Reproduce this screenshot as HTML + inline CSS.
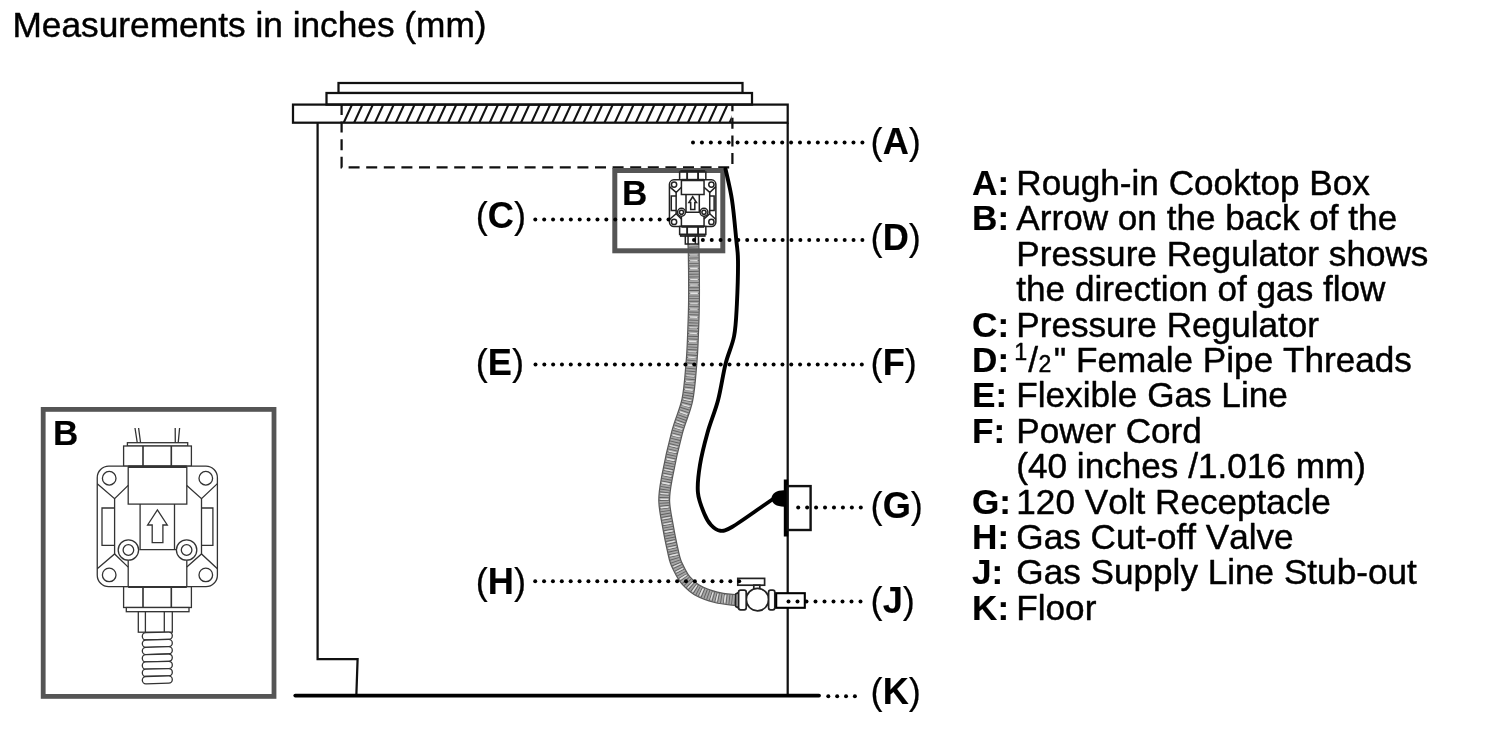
<!DOCTYPE html>
<html><head><meta charset="utf-8"><title>Diagram</title>
<style>
html,body{margin:0;padding:0;background:#fff;}
body{width:1500px;height:750px;overflow:hidden;font-family:"Liberation Sans",sans-serif;}
svg{display:block;filter:blur(0.5px);}
text{font-family:"Liberation Sans",sans-serif;fill:#000;font-kerning:none;stroke:#000;stroke-width:0.45px;stroke-linejoin:round;}
.b{font-weight:bold;stroke-width:0.15px;}
.co text{stroke-width:0.2px;}
</style></head><body>
<svg width="1500" height="750" viewBox="0 0 1500 750">
<defs><clipPath id="hc"><rect x="342" y="104" width="389.5" height="18.5"/></clipPath></defs>
<rect width="1500" height="750" fill="#fff"/>
<text x="12.5" y="37.1" font-size="35.25">Measurements in inches (mm)</text>

<!-- cooktop / cabinet -->
<g fill="none" stroke="#111" stroke-width="2.25">
<g stroke-width="2.1" clip-path="url(#hc)"><line x1="322.38" y1="123.7" x2="331.63" y2="103.6"/>
<line x1="332.81" y1="123.7" x2="342.06" y2="103.6"/>
<line x1="343.24" y1="123.7" x2="352.49" y2="103.6"/>
<line x1="353.67" y1="123.7" x2="362.92" y2="103.6"/>
<line x1="364.10" y1="123.7" x2="373.35" y2="103.6"/>
<line x1="374.53" y1="123.7" x2="383.78" y2="103.6"/>
<line x1="384.96" y1="123.7" x2="394.21" y2="103.6"/>
<line x1="395.39" y1="123.7" x2="404.64" y2="103.6"/>
<line x1="405.82" y1="123.7" x2="415.07" y2="103.6"/>
<line x1="416.25" y1="123.7" x2="425.50" y2="103.6"/>
<line x1="426.68" y1="123.7" x2="435.93" y2="103.6"/>
<line x1="437.11" y1="123.7" x2="446.36" y2="103.6"/>
<line x1="447.54" y1="123.7" x2="456.79" y2="103.6"/>
<line x1="457.97" y1="123.7" x2="467.22" y2="103.6"/>
<line x1="468.40" y1="123.7" x2="477.65" y2="103.6"/>
<line x1="478.83" y1="123.7" x2="488.08" y2="103.6"/>
<line x1="489.26" y1="123.7" x2="498.51" y2="103.6"/>
<line x1="499.69" y1="123.7" x2="508.94" y2="103.6"/>
<line x1="510.12" y1="123.7" x2="519.37" y2="103.6"/>
<line x1="520.55" y1="123.7" x2="529.80" y2="103.6"/>
<line x1="530.98" y1="123.7" x2="540.23" y2="103.6"/>
<line x1="541.41" y1="123.7" x2="550.66" y2="103.6"/>
<line x1="551.84" y1="123.7" x2="561.09" y2="103.6"/>
<line x1="562.27" y1="123.7" x2="571.52" y2="103.6"/>
<line x1="572.70" y1="123.7" x2="581.95" y2="103.6"/>
<line x1="583.13" y1="123.7" x2="592.38" y2="103.6"/>
<line x1="593.56" y1="123.7" x2="602.81" y2="103.6"/>
<line x1="603.99" y1="123.7" x2="613.24" y2="103.6"/>
<line x1="614.42" y1="123.7" x2="623.67" y2="103.6"/>
<line x1="624.85" y1="123.7" x2="634.10" y2="103.6"/>
<line x1="635.28" y1="123.7" x2="644.53" y2="103.6"/>
<line x1="645.71" y1="123.7" x2="654.96" y2="103.6"/>
<line x1="656.14" y1="123.7" x2="665.39" y2="103.6"/>
<line x1="666.57" y1="123.7" x2="675.82" y2="103.6"/>
<line x1="677.00" y1="123.7" x2="686.25" y2="103.6"/>
<line x1="687.43" y1="123.7" x2="696.68" y2="103.6"/>
<line x1="697.86" y1="123.7" x2="707.11" y2="103.6"/>
<line x1="708.29" y1="123.7" x2="717.54" y2="103.6"/>
<line x1="718.72" y1="123.7" x2="727.97" y2="103.6"/>
<line x1="729.15" y1="123.7" x2="738.40" y2="103.6"/></g>
<rect x="338.5" y="83" width="404" height="10" fill="#fff"/>
<rect x="326.5" y="93" width="425.5" height="11.6" fill="#fff"/>
<rect x="293" y="104.6" width="494.7" height="18.1"/>
<path d="M317.6 122.7 V659 H357.6 L356.4 694"/>
<path d="M787.7 122.7 V695"/>
<path d="M341.6 104 V167.4 H732.4 V104" stroke-dasharray="11 6.6"/>
</g>
<path d="M295.3 695.6 H819" stroke="#000" stroke-width="3.8" stroke-linecap="round" fill="none"/>

<!-- hose -->
<g fill="none" stroke-linecap="butt">
<path d="M692.8 236.0 C692.9 238.8 693.5 242.1 693.7 252.8 C693.9 263.5 694.1 286.3 694.0 300.0 C693.9 313.7 693.4 324.4 693.0 335.0 C692.6 345.6 692.4 352.9 691.4 363.7 C690.4 374.5 689.7 388.5 687.3 400.0 C684.9 411.5 680.3 420.1 677.0 432.7 C673.7 445.2 669.5 463.9 667.4 475.3 C665.3 486.7 664.0 492.1 664.2 501.0 C664.4 509.9 667.0 520.5 668.4 528.7 C669.8 536.9 671.5 544.6 672.7 550.0 C673.9 555.4 674.2 557.6 675.5 561.3 C676.8 565.0 678.8 568.8 680.5 572.0 C682.2 575.2 683.2 577.5 686.0 580.5 C688.8 583.5 692.0 587.2 697.0 590.0 C702.0 592.8 709.5 595.6 716.0 597.3 C722.5 599.0 732.9 599.7 736.3 600.2" stroke="#585858" stroke-width="12"/>
<path d="M692.8 236.0 C692.9 238.8 693.5 242.1 693.7 252.8 C693.9 263.5 694.1 286.3 694.0 300.0 C693.9 313.7 693.4 324.4 693.0 335.0 C692.6 345.6 692.4 352.9 691.4 363.7 C690.4 374.5 689.7 388.5 687.3 400.0 C684.9 411.5 680.3 420.1 677.0 432.7 C673.7 445.2 669.5 463.9 667.4 475.3 C665.3 486.7 664.0 492.1 664.2 501.0 C664.4 509.9 667.0 520.5 668.4 528.7 C669.8 536.9 671.5 544.6 672.7 550.0 C673.9 555.4 674.2 557.6 675.5 561.3 C676.8 565.0 678.8 568.8 680.5 572.0 C682.2 575.2 683.2 577.5 686.0 580.5 C688.8 583.5 692.0 587.2 697.0 590.0 C702.0 592.8 709.5 595.6 716.0 597.3 C722.5 599.0 732.9 599.7 736.3 600.2" stroke="#a6a6a6" stroke-width="9.6"/>
<path d="M692.8 236.0 C692.9 238.8 693.5 242.1 693.7 252.8 C693.9 263.5 694.1 286.3 694.0 300.0 C693.9 313.7 693.4 324.4 693.0 335.0 C692.6 345.6 692.4 352.9 691.4 363.7 C690.4 374.5 689.7 388.5 687.3 400.0 C684.9 411.5 680.3 420.1 677.0 432.7 C673.7 445.2 669.5 463.9 667.4 475.3 C665.3 486.7 664.0 492.1 664.2 501.0 C664.4 509.9 667.0 520.5 668.4 528.7 C669.8 536.9 671.5 544.6 672.7 550.0 C673.9 555.4 674.2 557.6 675.5 561.3 C676.8 565.0 678.8 568.8 680.5 572.0 C682.2 575.2 683.2 577.5 686.0 580.5 C688.8 583.5 692.0 587.2 697.0 590.0 C702.0 592.8 709.5 595.6 716.0 597.3 C722.5 599.0 732.9 599.7 736.3 600.2" stroke="#606060" stroke-width="10" stroke-dasharray="0.9 1.8"/>
<path d="M692.8 236.0 C692.9 238.8 693.5 242.1 693.7 252.8 C693.9 263.5 694.1 286.3 694.0 300.0 C693.9 313.7 693.4 324.4 693.0 335.0 C692.6 345.6 692.4 352.9 691.4 363.7 C690.4 374.5 689.7 388.5 687.3 400.0 C684.9 411.5 680.3 420.1 677.0 432.7 C673.7 445.2 669.5 463.9 667.4 475.3 C665.3 486.7 664.0 492.1 664.2 501.0 C664.4 509.9 667.0 520.5 668.4 528.7 C669.8 536.9 671.5 544.6 672.7 550.0 C673.9 555.4 674.2 557.6 675.5 561.3 C676.8 565.0 678.8 568.8 680.5 572.0 C682.2 575.2 683.2 577.5 686.0 580.5 C688.8 583.5 692.0 587.2 697.0 590.0 C702.0 592.8 709.5 595.6 716.0 597.3 C722.5 599.0 732.9 599.7 736.3 600.2" stroke="#e2e2e2" stroke-width="7.6" stroke-dasharray="1.2 6.6 1.5 9.4 1 4.5"/>
</g>
<!-- small B box -->
<rect x="614.8" y="170.5" width="108" height="80.3" fill="none" stroke="#555" stroke-width="5"/>
<text x="622" y="204.7" font-size="35" class="b">B</text>
<!-- small regulator: scaled copy of big one -->
<g transform="translate(692.65 203.15) scale(0.3865) translate(-157.3 -526.45)" fill="#fff" stroke="#222" stroke-width="3.9">
<rect x="127.4" y="442.7" width="60.3" height="3.4"/>
<rect x="123.6" y="446" width="67.8" height="20.2"/>
<path fill="none" d="M143 446V466 M171.3 446V466" stroke-width="4.88"/>
<rect x="97.25" y="466.2" width="120.15" height="120.5" rx="11.5" ry="11.5"/>
<rect x="128.2" y="467.3" width="58.6" height="36.8"/>
<path fill="none" d="M128.2 466.6H186.8" stroke-width="6.24"/>
<path fill="none" d="M140.1 504.1V549.7 M174.5 504.1V549.7 M139.3 549.7H176"/>
<path fill="none" d="M157.4 509.9 L167.3 525 L162.9 525 L162.9 542.6 L152.2 542.6 L152.2 525 L147.6 525 Z"/>
<circle cx="109.2" cy="478.25" r="6.8"/>
<circle cx="109.2" cy="574.9" r="6.8"/>
<circle cx="205.8" cy="478.25" r="6.8"/>
<circle cx="205.8" cy="574.9" r="6.8"/>
<path fill="none" d="M97.25 483.8 L114.6 498.7 L128.2 485.4 M217.4 483.6 L201.5 498.7 L186.8 485.4"/>
<path fill="none" d="M114.6 498.7V554 M201.5 498.7V554"/>
<path fill="none" d="M114.6 508H102V545.3H114.6 M201.5 508H212.9V545.3H201.5"/>
<path fill="none" d="M97.25 568.7 L114.6 554 L128.2 567.1 M217.4 568.7 L201.5 554 L186.8 567.1"/>
<path fill="none" d="M128.2 556V586.7 M186.8 556V586.7"/>
<circle cx="128.4" cy="550" r="10.2"/><circle cx="128.4" cy="550" r="5.3"/>
<circle cx="186.6" cy="550" r="10.2"/><circle cx="186.6" cy="550" r="5.3"/>
<rect x="123.6" y="586.7" width="67.8" height="20.8"/>
<path fill="none" d="M128.2 587H186.8" stroke-width="6.24"/>
<path fill="none" d="M143 587V607.5 M171.3 587V607.5" stroke-width="4.88"/>
<rect x="126.3" y="607.5" width="62.7" height="4.2"/>
<rect x="138.3" y="611.7" width="34" height="20.5"/>
<path fill="none" d="M145.4 611.7V632 M164.3 611.7V632"/>
</g>

<!-- power cord -->
<path d="M725.5 169.0 C726.6 174.2 730.2 188.2 732.0 200.0 C733.8 211.8 735.3 229.8 736.3 240.0 C737.3 250.2 737.9 250.3 738.0 261.0 C738.1 271.7 737.5 291.5 736.9 304.0 C736.2 316.5 736.0 326.1 734.1 336.0 C732.2 345.9 728.3 353.0 725.6 363.7 C722.9 374.4 721.1 388.5 718.1 400.0 C715.1 411.5 710.5 421.9 707.5 432.7 C704.5 443.5 701.6 454.8 700.0 464.7 C698.4 474.6 697.2 484.2 697.9 492.4 C698.6 500.6 702.1 508.3 704.3 513.7 C706.5 519.1 708.3 522.1 711.0 525.0 C713.7 527.9 716.8 530.5 720.3 530.8 C723.8 531.1 725.4 530.8 732.0 527.0 C738.6 523.2 753.2 512.7 760.0 508.0 C766.8 503.3 770.8 500.5 773.0 499.0" fill="none" stroke="#000" stroke-width="3.9" stroke-linecap="round" stroke-linejoin="round"/>
<!-- plug + outlet -->
<path d="M785 490.3 C777 490 771.5 493.5 771.5 498.5 C771.5 503.5 777 507 785 506.7 Z" fill="#000"/>
<rect x="783.8" y="479.5" width="4.4" height="57" fill="#000"/>
<rect x="787.7" y="486.1" width="22.9" height="43.9" fill="#fff" stroke="#111" stroke-width="2.4"/>

<!-- valve -->
<g fill="#fff" stroke="#222" stroke-width="1.7">
<rect x="737.8" y="578.4" width="26.8" height="6.8"/>
<rect x="753.8" y="585.2" width="6" height="3.6"/>
<circle cx="757.5" cy="599.6" r="11.2"/>
<path d="M738.5 592.5 L735.8 594 V606.5 L738.5 608 Z"/>
<rect x="738.6" y="590.2" width="7.6" height="19.6" rx="2"/>
<rect x="768.6" y="590.2" width="6.2" height="19.6" rx="2"/>
</g>
<rect x="776.2" y="593.2" width="28.6" height="14.6" fill="#fff" stroke="#000" stroke-width="2.1"/>

<!-- dotted leaders -->
<g fill="#000">
<circle cx="693.00" cy="142.4" r="2.0"/><circle cx="701.92" cy="142.4" r="2.0"/><circle cx="710.83" cy="142.4" r="2.0"/><circle cx="719.75" cy="142.4" r="2.0"/><circle cx="728.66" cy="142.4" r="2.0"/><circle cx="737.58" cy="142.4" r="2.0"/><circle cx="746.49" cy="142.4" r="2.0"/><circle cx="755.41" cy="142.4" r="2.0"/><circle cx="764.33" cy="142.4" r="2.0"/><circle cx="773.24" cy="142.4" r="2.0"/><circle cx="782.16" cy="142.4" r="2.0"/><circle cx="791.07" cy="142.4" r="2.0"/><circle cx="799.99" cy="142.4" r="2.0"/><circle cx="808.91" cy="142.4" r="2.0"/><circle cx="817.82" cy="142.4" r="2.0"/><circle cx="826.74" cy="142.4" r="2.0"/><circle cx="835.65" cy="142.4" r="2.0"/><circle cx="844.57" cy="142.4" r="2.0"/><circle cx="853.48" cy="142.4" r="2.0"/><circle cx="862.40" cy="142.4" r="2.0"/>
<circle cx="535.30" cy="219.6" r="2.0"/><circle cx="544.18" cy="219.6" r="2.0"/><circle cx="553.06" cy="219.6" r="2.0"/><circle cx="561.94" cy="219.6" r="2.0"/><circle cx="570.82" cy="219.6" r="2.0"/><circle cx="579.70" cy="219.6" r="2.0"/><circle cx="588.58" cy="219.6" r="2.0"/><circle cx="597.46" cy="219.6" r="2.0"/><circle cx="606.34" cy="219.6" r="2.0"/><circle cx="615.22" cy="219.6" r="2.0"/><circle cx="624.10" cy="219.6" r="2.0"/><circle cx="632.98" cy="219.6" r="2.0"/><circle cx="641.86" cy="219.6" r="2.0"/><circle cx="650.74" cy="219.6" r="2.0"/><circle cx="659.62" cy="219.6" r="2.0"/><circle cx="668.50" cy="219.6" r="2.0"/>
<circle cx="694.00" cy="240" r="2.0"/><circle cx="702.86" cy="240" r="2.0"/><circle cx="711.73" cy="240" r="2.0"/><circle cx="720.59" cy="240" r="2.0"/><circle cx="729.45" cy="240" r="2.0"/><circle cx="738.32" cy="240" r="2.0"/><circle cx="747.18" cy="240" r="2.0"/><circle cx="756.04" cy="240" r="2.0"/><circle cx="764.91" cy="240" r="2.0"/><circle cx="773.77" cy="240" r="2.0"/><circle cx="782.63" cy="240" r="2.0"/><circle cx="791.49" cy="240" r="2.0"/><circle cx="800.36" cy="240" r="2.0"/><circle cx="809.22" cy="240" r="2.0"/><circle cx="818.08" cy="240" r="2.0"/><circle cx="826.95" cy="240" r="2.0"/><circle cx="835.81" cy="240" r="2.0"/><circle cx="844.67" cy="240" r="2.0"/><circle cx="853.54" cy="240" r="2.0"/><circle cx="862.40" cy="240" r="2.0"/>
<circle cx="535.50" cy="364.6" r="2.0"/><circle cx="544.32" cy="364.6" r="2.0"/><circle cx="553.14" cy="364.6" r="2.0"/><circle cx="561.96" cy="364.6" r="2.0"/><circle cx="570.78" cy="364.6" r="2.0"/><circle cx="579.59" cy="364.6" r="2.0"/><circle cx="588.41" cy="364.6" r="2.0"/><circle cx="597.23" cy="364.6" r="2.0"/><circle cx="606.05" cy="364.6" r="2.0"/><circle cx="614.87" cy="364.6" r="2.0"/><circle cx="623.69" cy="364.6" r="2.0"/><circle cx="632.51" cy="364.6" r="2.0"/><circle cx="641.33" cy="364.6" r="2.0"/><circle cx="650.15" cy="364.6" r="2.0"/><circle cx="658.96" cy="364.6" r="2.0"/><circle cx="667.78" cy="364.6" r="2.0"/><circle cx="676.60" cy="364.6" r="2.0"/><circle cx="685.42" cy="364.6" r="2.0"/><circle cx="694.24" cy="364.6" r="2.0"/><circle cx="703.06" cy="364.6" r="2.0"/><circle cx="711.88" cy="364.6" r="2.0"/><circle cx="720.70" cy="364.6" r="2.0"/><circle cx="729.52" cy="364.6" r="2.0"/><circle cx="738.34" cy="364.6" r="2.0"/><circle cx="747.15" cy="364.6" r="2.0"/><circle cx="755.97" cy="364.6" r="2.0"/><circle cx="764.79" cy="364.6" r="2.0"/><circle cx="773.61" cy="364.6" r="2.0"/><circle cx="782.43" cy="364.6" r="2.0"/><circle cx="791.25" cy="364.6" r="2.0"/><circle cx="800.07" cy="364.6" r="2.0"/><circle cx="808.89" cy="364.6" r="2.0"/><circle cx="817.71" cy="364.6" r="2.0"/><circle cx="826.52" cy="364.6" r="2.0"/><circle cx="835.34" cy="364.6" r="2.0"/><circle cx="844.16" cy="364.6" r="2.0"/><circle cx="852.98" cy="364.6" r="2.0"/><circle cx="861.80" cy="364.6" r="2.0"/>
<circle cx="798.20" cy="507.5" r="2.0"/><circle cx="807.14" cy="507.5" r="2.0"/><circle cx="816.09" cy="507.5" r="2.0"/><circle cx="825.03" cy="507.5" r="2.0"/><circle cx="833.97" cy="507.5" r="2.0"/><circle cx="842.91" cy="507.5" r="2.0"/><circle cx="851.86" cy="507.5" r="2.0"/><circle cx="860.80" cy="507.5" r="2.0"/>
<circle cx="535.20" cy="581.3" r="2.0"/><circle cx="544.07" cy="581.3" r="2.0"/><circle cx="552.94" cy="581.3" r="2.0"/><circle cx="561.81" cy="581.3" r="2.0"/><circle cx="570.68" cy="581.3" r="2.0"/><circle cx="579.55" cy="581.3" r="2.0"/><circle cx="588.42" cy="581.3" r="2.0"/><circle cx="597.29" cy="581.3" r="2.0"/><circle cx="606.16" cy="581.3" r="2.0"/><circle cx="615.03" cy="581.3" r="2.0"/><circle cx="623.90" cy="581.3" r="2.0"/><circle cx="632.77" cy="581.3" r="2.0"/><circle cx="641.63" cy="581.3" r="2.0"/><circle cx="650.50" cy="581.3" r="2.0"/><circle cx="659.37" cy="581.3" r="2.0"/><circle cx="668.24" cy="581.3" r="2.0"/><circle cx="677.11" cy="581.3" r="2.0"/><circle cx="685.98" cy="581.3" r="2.0"/><circle cx="694.85" cy="581.3" r="2.0"/><circle cx="703.72" cy="581.3" r="2.0"/><circle cx="712.59" cy="581.3" r="2.0"/><circle cx="721.46" cy="581.3" r="2.0"/><circle cx="730.33" cy="581.3" r="2.0"/><circle cx="739.20" cy="581.3" r="2.0"/>
<circle cx="788.50" cy="601.4" r="2.0"/><circle cx="797.50" cy="601.4" r="2.0"/><circle cx="806.50" cy="601.4" r="2.0"/><circle cx="815.50" cy="601.4" r="2.0"/><circle cx="824.50" cy="601.4" r="2.0"/><circle cx="833.50" cy="601.4" r="2.0"/><circle cx="842.50" cy="601.4" r="2.0"/><circle cx="851.50" cy="601.4" r="2.0"/><circle cx="860.50" cy="601.4" r="2.0"/>
<circle cx="828.30" cy="696.2" r="2.0"/><circle cx="837.17" cy="696.2" r="2.0"/><circle cx="846.03" cy="696.2" r="2.0"/><circle cx="854.90" cy="696.2" r="2.0"/>
</g>

<!-- callout labels -->
<g font-size="36.2" class="co">
<text x="870.6" y="154.3">(<tspan class="b">A</tspan>)</text>
<text x="870.6" y="250">(<tspan class="b">D</tspan>)</text>
<text x="870.6" y="374.8">(<tspan class="b">F</tspan>)</text>
<text x="870.6" y="517.8">(<tspan class="b">G</tspan>)</text>
<text x="870.6" y="612.8">(<tspan class="b">J</tspan>)</text>
<text x="870.6" y="703.8">(<tspan class="b">K</tspan>)</text>
<text x="475.8" y="227.6">(<tspan class="b">C</tspan>)</text>
<text x="475.8" y="374.8">(<tspan class="b">E</tspan>)</text>
<text x="475.8" y="594">(<tspan class="b">H</tspan>)</text>
</g>

<!-- big B inset -->
<rect x="43.2" y="409.4" width="230.8" height="287" fill="#fff" stroke="#555" stroke-width="4.8"/>
<text x="53" y="445" font-size="35" class="b">B</text>
<g fill="#fff" stroke="#333" stroke-width="1.3">
<path fill="none" d="M135 428 L137.3 443 M138.6 428 L140.6 443 M175.2 428 L175.3 443 M179.6 428 L178.2 443"/>
<rect x="127.4" y="442.7" width="60.3" height="3.4"/>
<rect x="123.6" y="446" width="67.8" height="20.2"/>
<path fill="none" d="M143 446V466 M171.3 446V466" stroke-width="1.62"/>
<rect x="97.25" y="466.2" width="120.15" height="120.5" rx="11.5" ry="11.5"/>
<rect x="128.2" y="467.3" width="58.6" height="36.8"/>
<path fill="none" d="M128.2 466.6H186.8" stroke-width="2.08"/>
<path fill="none" d="M140.1 504.1V549.7 M174.5 504.1V549.7 M139.3 549.7H176"/>
<path fill="none" d="M157.4 509.9 L167.3 525 L162.9 525 L162.9 542.6 L152.2 542.6 L152.2 525 L147.6 525 Z"/>
<circle cx="109.2" cy="478.25" r="6.8"/>
<circle cx="109.2" cy="574.9" r="6.8"/>
<circle cx="205.8" cy="478.25" r="6.8"/>
<circle cx="205.8" cy="574.9" r="6.8"/>
<path fill="none" d="M97.25 483.8 L114.6 498.7 L128.2 485.4 M217.4 483.6 L201.5 498.7 L186.8 485.4"/>
<path fill="none" d="M114.6 498.7V554 M201.5 498.7V554"/>
<path fill="none" d="M114.6 508H102V545.3H114.6 M201.5 508H212.9V545.3H201.5"/>
<path fill="none" d="M97.25 568.7 L114.6 554 L128.2 567.1 M217.4 568.7 L201.5 554 L186.8 567.1"/>
<path fill="none" d="M128.2 556V586.7 M186.8 556V586.7"/>
<circle cx="128.4" cy="550" r="10.2"/><circle cx="128.4" cy="550" r="5.3"/>
<circle cx="186.6" cy="550" r="10.2"/><circle cx="186.6" cy="550" r="5.3"/>
<rect x="123.6" y="586.7" width="67.8" height="20.8"/>
<path fill="none" d="M128.2 587H186.8" stroke-width="2.08"/>
<path fill="none" d="M143 587V607.5 M171.3 587V607.5" stroke-width="1.62"/>
<rect x="126.3" y="607.5" width="62.7" height="4.2"/>
<rect x="138.3" y="611.7" width="34" height="20.5"/>
<path fill="none" d="M145.4 611.7V632 M164.3 611.7V632"/>
<rect x="142.3" y="632.4" width="30" height="7.3" rx="3.6" ry="3.6" transform="rotate(-1.5 157.3 636.0)"/>
<rect x="142.3" y="639.7" width="30" height="7.3" rx="3.6" ry="3.6" transform="rotate(-1.5 157.3 643.3)"/>
<rect x="142.3" y="647.0" width="30" height="7.3" rx="3.6" ry="3.6" transform="rotate(-1.5 157.3 650.6)"/>
<rect x="142.3" y="654.3" width="30" height="7.3" rx="3.6" ry="3.6" transform="rotate(-1.5 157.3 657.9)"/>
<rect x="142.3" y="661.6" width="30" height="7.3" rx="3.6" ry="3.6" transform="rotate(-1.5 157.3 665.2)"/>
<rect x="142.3" y="668.9" width="30" height="7.3" rx="3.6" ry="3.6" transform="rotate(-1.5 157.3 672.5)"/>
<rect x="142.3" y="676.2" width="30" height="7.3" rx="3.6" ry="3.6" transform="rotate(-1.5 157.3 679.8)"/>
</g>

<!-- legend -->
<g font-size="35.15">
<text x="972" y="195.00" class="b">A:</text>
<text x="1016.3" y="195.00">Rough-in Cooktop Box</text>
<text x="972" y="230.40" class="b">B:</text>
<text x="1016.3" y="230.40">Arrow on the back of the</text>
<text x="1016.3" y="265.80">Pressure Regulator shows</text>
<text x="1016.3" y="301.20">the direction of gas flow</text>
<text x="972" y="336.60" class="b">C:</text>
<text x="1016.3" y="336.60">Pressure Regulator</text>
<text x="972" y="372.00" class="b">D:</text>
<text x="1014.2" y="360.40" font-size="23.3">1</text>
<text x="1028.3" y="372.00">/</text>
<text x="1038.4" y="371.80" font-size="23">2</text>
<text x="1053.7" y="372.00">&quot; Female Pipe Threads</text>
<text x="972" y="407.40" class="b">E:</text>
<text x="1016.3" y="407.40">Flexible Gas Line</text>
<text x="972" y="442.80" class="b">F:</text>
<text x="1016.3" y="442.80">Power Cord</text>
<text x="1016.3" y="478.20">(40 inches /1.016 mm)</text>
<text x="972" y="513.60" class="b">G:</text>
<text x="1016.3" y="513.60">120 Volt Receptacle</text>
<text x="972" y="549.00" class="b">H:</text>
<text x="1016.3" y="549.00">Gas Cut-off Valve</text>
<text x="972" y="584.40" class="b">J:</text>
<text x="1016.3" y="584.40">Gas Supply Line Stub-out</text>
<text x="972" y="619.80" class="b">K:</text>
<text x="1016.3" y="619.80">Floor</text>
</g>
</svg>
</body></html>
